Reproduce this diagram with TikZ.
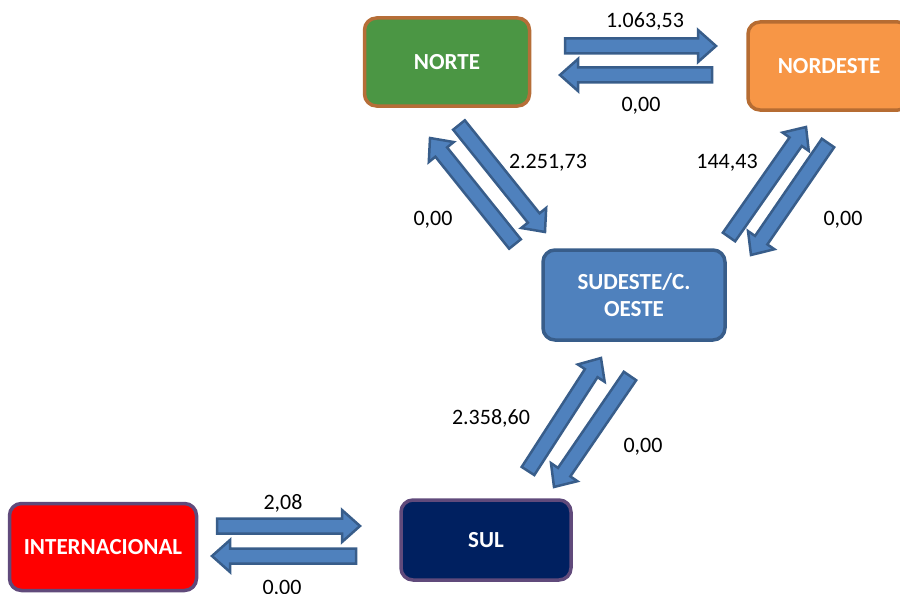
\documentclass[tikz,border=0pt]{standalone}
\usepackage{fontspec}
\setmainfont{Carlito}
\usetikzlibrary{calc}

\definecolor{norteFill}{RGB}{75,150,68}
\definecolor{norteLine}{RGB}{182,110,56}
\definecolor{nordesteFill}{RGB}{247,150,70}
\definecolor{nordesteLine}{RGB}{182,108,50}
\definecolor{sudesteFill}{RGB}{79,129,189}
\definecolor{sudesteLine}{RGB}{56,93,138}
\definecolor{intFill}{RGB}{255,0,0}
\definecolor{sulFill}{RGB}{0,32,96}
\definecolor{purpleLine}{RGB}{96,74,123}
\definecolor{arrowFill}{RGB}{79,129,189}
\definecolor{arrowLine}{RGB}{56,93,138}

% block arrow from #1 (tail) to #2 (tip)
\newcommand{\flowarrow}[2]{%
	\draw[flow] let \p1=($(#2)-(#1)$), \n1={veclen(\x1,\y1)}, \n2={atan2(\y1,\x1)} in
		[shift={(#1)}, rotate=\n2]
		(0pt,-7.5pt) -- ({\n1-18pt},-7.5pt) -- ({\n1-18pt},-16pt) -- (\n1,0pt)
		-- ({\n1-18pt},16pt) -- ({\n1-18pt},7.5pt) -- (0pt,7.5pt) -- cycle;}

\begin{document}
\begin{tikzpicture}[x=1pt, y=-1pt,
	region/.style={rounded corners=12pt, line width=3.5pt, text=white, align=center, font=\fontsize{23}{27}\selectfont\bfseries},
	flow/.style={fill=arrowFill, draw=arrowLine, line width=2.5pt, line join=miter},
	value/.style={font=\fontsize{22}{26}\selectfont}]
\useasboundingbox (0,0) rectangle (900,594);

% regions
\node[region, fill=norteFill, draw=norteLine, minimum width=165pt, minimum height=88pt] (norte) at (447,62) {NORTE};
\node[region, fill=nordesteFill, draw=nordesteLine, minimum width=162pt, minimum height=88pt] (nordeste) at (829,66) {NORDESTE};
\node[region, fill=sudesteFill, draw=sudesteLine, minimum width=182pt, minimum height=90pt] (sudeste) at (634,295) {SUDESTE/C.\\OESTE};
\node[region, fill=intFill, draw=purpleLine, minimum width=187pt, minimum height=87pt] (inter) at (103,547) {INTERNACIONAL};
\node[region, fill=sulFill, draw=purpleLine, minimum width=170pt, minimum height=80pt] (sul) at (486,540) {SUL};

% arrow ends
\coordinate (n-ne-a) at (565,46);  \coordinate (n-ne-b) at (716,46);
\coordinate (ne-n-a) at (712,75);  \coordinate (ne-n-b) at (560,75);
\coordinate (n-se-a) at (459,125); \coordinate (n-se-b) at (545,232);
\coordinate (se-n-a) at (515,244); \coordinate (se-n-b) at (430,138);
\coordinate (se-ne-a) at (729,237); \coordinate (se-ne-b) at (806,127);
\coordinate (ne-se-a) at (828,143); \coordinate (ne-se-b) at (751,255);
\coordinate (s-se-a) at (528,471); \coordinate (s-se-b) at (601,358);
\coordinate (se-s-a) at (630,376); \coordinate (se-s-b) at (554,487);
\coordinate (i-s-a) at (217,526);  \coordinate (i-s-b) at (360,526);
\coordinate (s-i-a) at (356,556);  \coordinate (s-i-b) at (212,556);

\flowarrow{n-ne-a}{n-ne-b}
\flowarrow{ne-n-a}{ne-n-b}
\flowarrow{n-se-a}{n-se-b}
\flowarrow{se-n-a}{se-n-b}
\flowarrow{se-ne-a}{se-ne-b}
\flowarrow{ne-se-a}{ne-se-b}
\flowarrow{s-se-a}{s-se-b}
\flowarrow{se-s-a}{se-s-b}
\flowarrow{i-s-a}{i-s-b}
\flowarrow{s-i-a}{s-i-b}

% values
\node[value] (v-n-ne) at (645,21) {1.063,53};
\node[value] (v-ne-n) at (641,106) {0,00};
\node[value] (v-n-se) at (548,163) {2.251,73};
\node[value] (v-se-n) at (433,220) {0,00};
\node[value] (v-se-ne) at (727,163) {144,43};
\node[value] (v-ne-se) at (843,220) {0,00};
\node[value] (v-s-se) at (491,418) {2.358,60};
\node[value] (v-se-s) at (643,447) {0,00};
\node[value] (v-i-s) at (283,503) {2,08};
\node[value] (v-s-i) at (282,589) {0,00};
\end{tikzpicture}
\end{document}
